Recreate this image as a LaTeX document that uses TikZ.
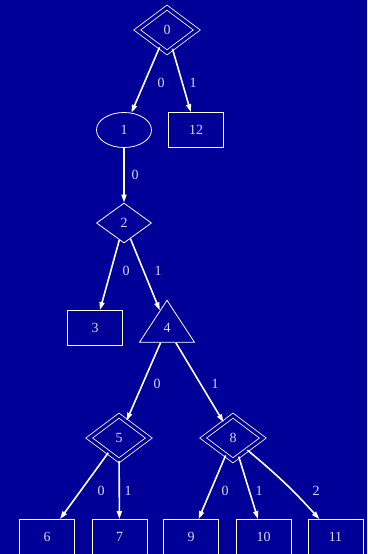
\documentclass[tikz,border=0pt]{standalone}
\usepackage{fontspec}
\setmainfont{Liberation Serif}
\usetikzlibrary{shapes.geometric,arrows.meta}
\definecolor{bgblue}{RGB}{0,0,153}
\definecolor{txtcol}{RGB}{215,215,255}
\begin{document}
\begin{tikzpicture}[x=1pt,y=-1pt,
  every node/.style={draw=white, line width=0.8pt, text=txtcol,
    font=\fontsize{14}{16}\selectfont, inner sep=0pt},
  boxnode/.style={rectangle, minimum width=55pt, minimum height=35pt},
  ovalnode/.style={ellipse, minimum width=55pt, minimum height=35pt},
  dianode/.style={diamond, minimum width=55pt, minimum height=40pt},
  dbldianode/.style={diamond, double=bgblue, double distance=3.2pt,
    minimum width=60pt, minimum height=45pt},
  trinode/.style={isosceles triangle, shape border rotate=90,
    isosceles triangle stretches, minimum width=55pt, minimum height=42pt},
  lbl/.style={draw=none},
  edge/.style={white, line width=1.6pt, -{Triangle[length=8pt,width=5pt]}}]
  \clip (0,0) rectangle (367,554);
  \fill[bgblue] (0,0) rectangle (367,554);
  % nodes
  \node[dbldianode] (n0) at (167,30) {0};
  \node[ovalnode] (n1) at (124,130) {1};
  \node[boxnode] (n12) at (196,130) {12};
  \node[dianode] (n2) at (124,223) {2};
  \node[boxnode] (n3) at (95,328) {3};
  \node[trinode] (n4) at (167,328) {4};
  \node[dbldianode] (n5) at (119,438) {5};
  \node[dbldianode] (n8) at (233,438) {8};
  \node[boxnode] (n6) at (47,537) {6};
  \node[boxnode] (n7) at (119.5,537) {7};
  \node[boxnode] (n9) at (191,537) {9};
  \node[boxnode] (n10) at (263.5,537) {10};
  \node[boxnode] (n11) at (335.5,537) {11};
  % edges
  \draw[edge] (n0) -- (n1);
  \draw[edge] (n0) -- (n12);
  \draw[edge] (n1) -- (n2);
  \draw[edge] (n2) -- (n3);
  \draw[edge] (n2) -- (n4);
  \draw[edge] (n4) -- (n5);
  \draw[edge] (n4) -- (n8);
  \draw[edge] (n5) -- (n6);
  \draw[edge] (n5) -- (n7);
  \draw[edge] (n8) -- (n9);
  \draw[edge] (n8) -- (n10);
  \draw[edge] (n8) to[bend left=4] (n11);
  % edge labels
  \node[lbl] (l01) at (161,83) {0};
  \node[lbl] (l012) at (193,83) {1};
  \node[lbl] (l12) at (135,175) {0};
  \node[lbl] (l23) at (126,271) {0};
  \node[lbl] (l24) at (158,271) {1};
  \node[lbl] (l45) at (157,384) {0};
  \node[lbl] (l48) at (215,384) {1};
  \node[lbl] (l56) at (101,491) {0};
  \node[lbl] (l57) at (128,491) {1};
  \node[lbl] (l89) at (225,491) {0};
  \node[lbl] (l810) at (259,491) {1};
  \node[lbl] (l811) at (316,491) {2};
\end{tikzpicture}
\end{document}
